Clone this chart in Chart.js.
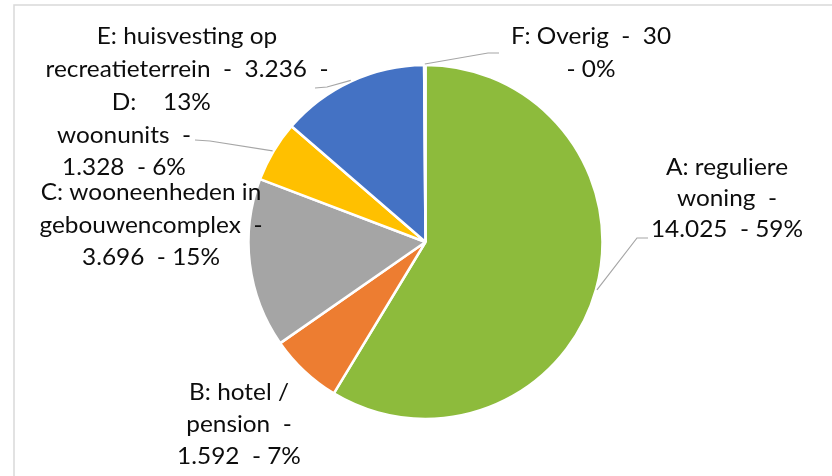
<!DOCTYPE html>
<html><head><meta charset="utf-8">
<script src="https://cdn.jsdelivr.net/npm/chart.js@4.4.1/dist/chart.umd.min.js"></script>
<style>html,body{margin:0;padding:0;background:#fff}#wrap{position:relative;width:832px;height:476px}</style>
</head><body><div id="wrap"><canvas id="c" width="832" height="476"></canvas></div>
<script>
const categories = ['A: reguliere woning','B: hotel / pension','C: wooneenheden in gebouwencomplex','D: woonunits','E: huisvesting op recreatieterrein','F: Overig'];
const values = [14025, 1592, 3696, 1328, 3236, 30];
const labelLines = [
  ['A: reguliere', 'woning  -', '14.025  - 59%'],
  ['B: hotel /', 'pension  -', '1.592  - 7%'],
  ['C: wooneenheden in', 'gebouwencomplex  -', '3.696  - 15%'],
  ['D:', 'woonunits  -', '1.328  - 6%'],
  ['E: huisvesting op', 'recreatieterrein  -  3.236  -', '13%'],
  ['F: Overig  -  30', '- 0%']
];
const colors = ['#8DBB3C', '#ED7D31', '#A5A5A5', '#FFC000', '#4472C4', '#5B9BD5'];

// layout (positions / styles)
const labelLayout = [
  {x: 727, y: 168, lh: 31},
  {x: 239, y: 393, lh: 32},
  {x: 151, y: 193, lh: 32.5},
  {x: 124, y: 103, lh: 32.5},
  {x: 187, y: 37, lh: 33},
  {x: 591, y: 37, lh: 33}
];
const leaderLayout = {
  0: [[648, 238], [637, 238]],
  3: [[195, 140], [210, 141]],
  4: [[315, 88], [327, 87]],
  5: [[499, 53], [488, 53]]
};
const FONT = '23px Lato, "Open Sans", sans-serif';
const STRETCH = 1.06;

const labelPlugin = {
  id: 'labelPlugin',
  beforeDraw(chart) {
    const ctx = chart.ctx;
    ctx.save();
    ctx.strokeStyle = '#D9D9D9';
    ctx.lineWidth = 1.5;
    ctx.beginPath();
    ctx.moveTo(14, 476); ctx.lineTo(14, 5); ctx.lineTo(832, 5);
    ctx.stroke();
    ctx.restore();
  },
  afterDraw(chart) {
    const ctx = chart.ctx;
    const meta = chart.getDatasetMeta(0);
    ctx.save();
    ctx.strokeStyle = '#A6A6A6';
    ctx.lineWidth = 1.2;
    Object.keys(leaderLayout).forEach(k => {
      const arc = meta.data[k];
      const mid = (arc.startAngle + arc.endAngle) / 2;
      const r = arc.outerRadius + 1;
      const ax = arc.x + Math.cos(mid) * r, ay = arc.y + Math.sin(mid) * r;
      const pts = leaderLayout[k];
      ctx.beginPath();
      ctx.moveTo(pts[0][0], pts[0][1]);
      for (let i = 1; i < pts.length; i++) ctx.lineTo(pts[i][0], pts[i][1]);
      ctx.lineTo(ax, ay);
      ctx.stroke();
    });
    ctx.fillStyle = '#0D0D0D';
    ctx.font = FONT;
    ctx.textAlign = 'center';
    ctx.textBaseline = 'middle';
    labelLines.forEach((lines, i) => {
      const L = labelLayout[i];
      lines.forEach((t, j) => {
        ctx.save();
        ctx.translate(L.x, L.y + j * L.lh);
        ctx.scale(STRETCH, 1);
        ctx.fillText(t, 0, 0);
        ctx.restore();
      });
    });
    ctx.restore();
  }
};

new Chart(document.getElementById('c'), {
  type: 'pie',
  data: {
    labels: categories,
    datasets: [{
      data: values,
      backgroundColor: colors,
      borderColor: '#FFFFFF',
      borderWidth: 2.5
    }]
  },
  options: {
    responsive: false,
    devicePixelRatio: 1,
    animation: false,
    radius: 177,
    layout: {padding: {left: 249, right: 230, top: 66, bottom: 58}},
    plugins: {legend: {display: false}, tooltip: {enabled: false}}
  },
  plugins: [labelPlugin]
});
</script>
</body></html>
